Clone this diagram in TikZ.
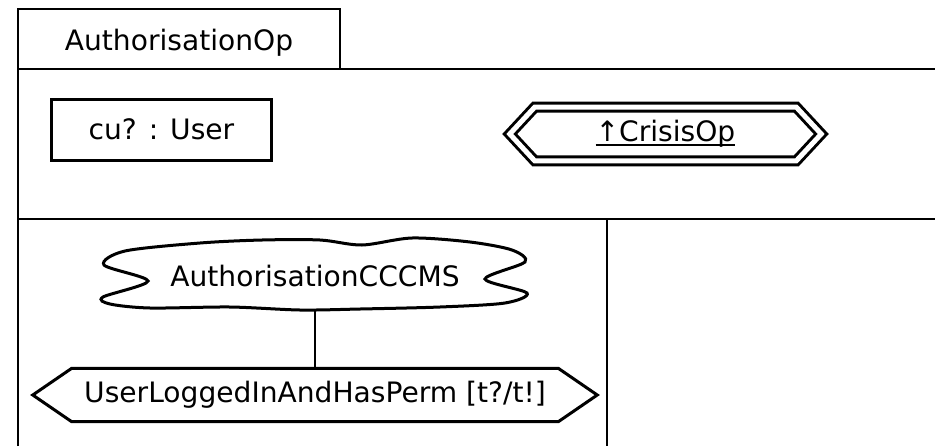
\documentclass[tikz,border=0pt]{standalone}
\usepackage{fontspec}
\setmainfont{DejaVu Sans}
\newcommand{\thickul}[1]{\leavevmode\setbox0=\hbox{#1}\rlap{\rule[-3.8pt]{\wd0}{2.2pt}}\box0}

\begin{document}
\begin{tikzpicture}[x=0.03cm,y=-0.03cm,font=\fontsize{24}{29}\selectfont,
    frame/.style={line width=0.075cm},
    outline/.style={line width=0.09cm,line join=miter},
    box/.style={draw,outline,inner sep=0pt},
    plain/.style={inner sep=0pt}]
      \useasboundingbox (0,0) rectangle (935,446);
      \draw[frame] (18,69) -- (18,9) -- (340,9) -- (340,69);
      \draw[frame] (18,446) -- (18,69) -- (935,69);
      \draw[frame] (18,219) -- (935,219);
      \draw[frame] (607,219) -- (607,446);
      \node[anchor=base] (title) at (179,50) {AuthorisationOp};
      \node[box,minimum width=6.57cm,minimum height=1.83cm] (cu) at (161.5,129.5) {cu? : User};
      \node[plain,minimum width=9.33cm,minimum height=1.6cm] (super) at (665.5,134) {\thickul{↑CrisisOp}};
      \draw[outline,double,double distance=0.15cm] (super.west) -- ([xshift=0.75cm]super.north west) -- ([xshift=-0.75cm]super.north east) -- (super.east) -- ([xshift=-0.75cm]super.south east) -- ([xshift=0.75cm]super.south west) -- cycle;
      \node[plain,minimum width=12.78cm,minimum height=2.04cm] (env) at (315,276) {AuthorisationCCCMS};
      \draw[outline] plot[smooth cycle,tension=0.5] coordinates {(148,281) (104,265) (125,251) (200,243) (262,240) (320,240) (362,245) (412,238) (470,242) (512,250) (525,262) (485,279) (527,293) (505,303) (440,307) (360,309) (300,310) (230,307) (150,308) (110,304) (103,297)};
      \node[plain,minimum width=16.92cm,minimum height=1.59cm] (pred) at (315,395) {UserLoggedInAndHasPerm [t?/t!]};
      \draw[outline] (pred.west) -- ([xshift=1.17cm]pred.north west) -- ([xshift=-1.17cm]pred.north east) -- (pred.east) -- ([xshift=-1.17cm]pred.south east) -- ([xshift=1.17cm]pred.south west) -- cycle;
      \draw[frame] (env.south) -- (pred.north);
\end{tikzpicture}
\end{document}
